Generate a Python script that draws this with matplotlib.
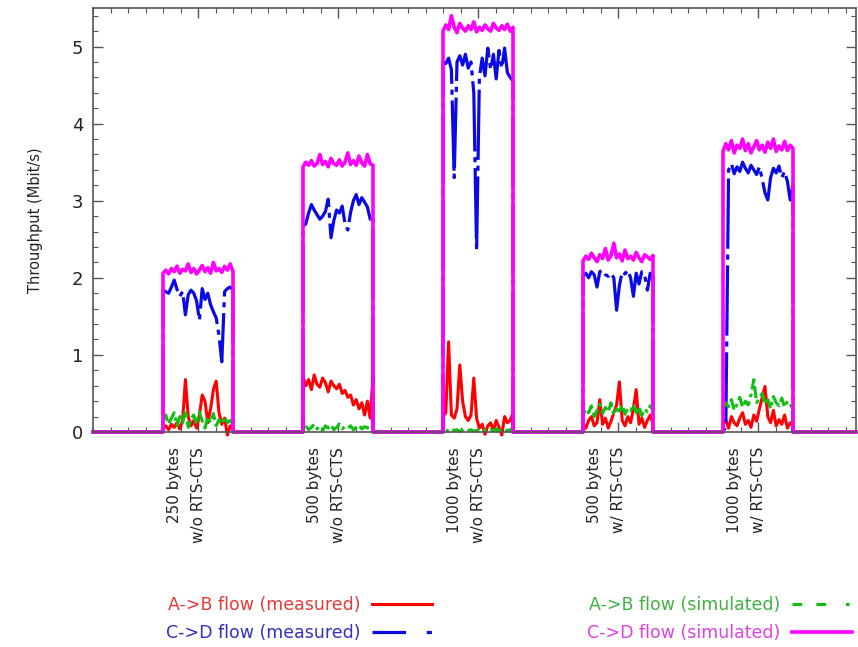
import matplotlib.pyplot as plt
import matplotlib.transforms as mtransforms
import numpy as np
from matplotlib.lines import Line2D
from matplotlib.ticker import MultipleLocator

# time windows (s) of the five runs, and the axis range
seg_start = [50, 150, 250, 350, 450]
seg_len = 50
x_max = 545
tick_pos = [75, 175, 275, 375, 475]
tick_labels = ['250 bytes\nw/o RTS-CTS', '500 bytes\nw/o RTS-CTS', '1000 bytes\nw/o RTS-CTS',
               '500 bytes\nw/ RTS-CTS', '1000 bytes\nw/ RTS-CTS']

# A->B flow (measured), one list per run
ab_meas = [
    [0.05, 0.08, 0.03, 0.10, 0.06, 0.12, 0.04, 0.15, 0.68, 0.20, 0.08, 0.15, 0.05, 0.22, 0.48, 0.40, 0.12, 0.30, 0.55, 0.66, 0.25, 0.10, 0.18, -0.04, 0.08, 0.04],
    [0.72, 0.60, 0.68, 0.55, 0.74, 0.62, 0.58, 0.70, 0.64, 0.52, 0.66, 0.60, 0.56, 0.62, 0.50, 0.54, 0.45, 0.48, 0.35, 0.42, 0.30, 0.38, 0.22, 0.40, 0.18, 0.72],
    [0.20, 0.25, 1.17, 0.22, 0.18, 0.30, 0.87, 0.40, 0.20, 0.15, 0.22, 0.70, 0.18, 0.05, 0.10, -0.03, 0.08, 0.12, 0.02, 0.15, 0.06, -0.04, 0.20, 0.12, 0.15, 0.25],
    [0.10, 0.05, 0.15, 0.20, 0.08, 0.12, 0.42, 0.10, 0.18, 0.05, 0.14, 0.25, 0.35, 0.65, 0.15, 0.08, 0.20, 0.12, 0.30, 0.55, 0.10, 0.18, 0.06, 0.15, 0.22, 0.10],
    [0.10, 0.15, 0.05, 0.20, 0.12, 0.08, 0.18, 0.25, 0.10, 0.15, 0.06, 0.22, 0.14, 0.30, 0.45, 0.59, 0.20, 0.12, 0.28, 0.08, 0.16, 0.10, 0.22, 0.05, 0.12, 0.08],
]
# C->D flow (measured)
cd_meas = [
    [1.84, 1.82, 1.80, 1.88, 1.97, 1.85, 1.76, 1.82, 1.52, 1.78, 1.84, 1.80, 1.70, 1.45, 1.86, 1.72, 1.80, 1.65, 1.56, 1.48, 1.25, 0.91, 1.82, 1.86, 1.88, 1.84],
    [2.67, 2.70, 2.84, 2.95, 2.88, 2.82, 2.76, 2.80, 2.86, 3.02, 2.52, 2.74, 2.88, 2.84, 2.93, 2.70, 2.62, 2.85, 3.00, 3.08, 2.95, 3.04, 2.98, 2.92, 2.76, 2.80],
    [4.80, 4.78, 4.85, 4.70, 3.30, 4.80, 4.88, 4.76, 4.90, 4.72, 4.80, 4.40, 2.35, 4.60, 4.85, 4.62, 4.98, 4.70, 4.90, 4.58, 4.95, 4.72, 4.98, 4.66, 4.60, 4.55],
    [2.02, 2.06, 2.00, 2.08, 2.04, 1.88, 2.08, 2.10, 2.04, 2.02, 2.06, 2.00, 1.58, 1.90, 2.08, 2.05, 2.10, 2.00, 1.76, 2.06, 1.92, 2.08, 2.04, 1.84, 2.06, 2.02],
    [0.02, 0.05, 3.40, 3.48, 3.35, 3.44, 3.38, 3.50, 3.42, 3.36, 3.46, 3.40, 3.34, 3.44, 3.28, 3.10, 3.01, 3.30, 3.42, 3.36, 3.45, 3.30, 3.38, 3.25, 3.01, 3.20],
]
# A->B flow (simulated)
ab_sim = [
    [0.15, 0.22, 0.10, 0.18, 0.25, 0.08, 0.20, 0.12, 0.28, 0.06, 0.18, 0.22, 0.10, 0.26, 0.14, 0.05, 0.20, 0.12, 0.24, 0.08, 0.16, 0.10, 0.20, 0.12, 0.15, 0.10],
    [0.05, 0.08, 0.03, 0.06, 0.10, 0.04, 0.07, 0.02, 0.08, 0.05, 0.09, 0.03, 0.06, 0.10, 0.04, 0.07, 0.05, 0.08, 0.03, 0.06, 0.09, 0.04, 0.07, 0.05, 0.10, 0.06],
    [0.02, 0.03, 0.01, 0.04, 0.02, 0.03, 0.01, 0.02, 0.04, 0.02, 0.03, 0.01, 0.02, 0.03, 0.04, 0.02, 0.01, 0.03, 0.02, 0.04, 0.02, 0.03, 0.01, 0.02, 0.03, 0.02],
    [0.22, 0.30, 0.25, 0.34, 0.20, 0.28, 0.36, 0.24, 0.32, 0.26, 0.38, 0.22, 0.30, 0.27, 0.35, 0.23, 0.31, 0.28, 0.36, 0.25, 0.33, 0.21, 0.30, 0.26, 0.34, 0.28],
    [0.30, 0.38, 0.33, 0.42, 0.28, 0.36, 0.45, 0.32, 0.40, 0.35, 0.48, 0.68, 0.38, 0.44, 0.50, 0.36, 0.42, 0.30, 0.46, 0.38, 0.34, 0.44, 0.32, 0.40, 0.36, 0.30],
]
# C->D flow (simulated)
cd_sim = [
    [2.06, 2.10, 2.05, 2.12, 2.08, 2.15, 2.06, 2.11, 2.09, 2.18, 2.07, 2.12, 2.05, 2.10, 2.16, 2.08, 2.13, 2.06, 2.20, 2.09, 2.12, 2.07, 2.15, 2.10, 2.18, 2.08],
    [3.44, 3.50, 3.46, 3.52, 3.45, 3.48, 3.60, 3.47, 3.51, 3.44, 3.55, 3.48, 3.46, 3.53, 3.45, 3.50, 3.62, 3.47, 3.52, 3.46, 3.58, 3.49, 3.45, 3.60, 3.48, 3.46],
    [5.20, 5.28, 5.22, 5.40, 5.25, 5.18, 5.30, 5.24, 5.20, 5.27, 5.22, 5.32, 5.19, 5.25, 5.21, 5.28, 5.23, 5.20, 5.30, 5.24, 5.21, 5.27, 5.22, 5.29, 5.20, 5.25],
    [2.22, 2.28, 2.24, 2.32, 2.26, 2.21, 2.30, 2.25, 2.38, 2.23, 2.29, 2.45, 2.26, 2.31, 2.22, 2.36, 2.25, 2.28, 2.23, 2.33, 2.26, 2.21, 2.30, 2.27, 2.24, 2.29],
    [3.64, 3.74, 3.66, 3.78, 3.62, 3.72, 3.68, 3.80, 3.65, 3.74, 3.62, 3.70, 3.78, 3.66, 3.72, 3.63, 3.76, 3.68, 3.80, 3.64, 3.71, 3.66, 3.77, 3.65, 3.72, 3.68],
]


# join the runs into one trace, zero between runs
def build(runs):
    xs, ys = [0.0], [0.0]
    for s, vals in zip(seg_start, runs):
        t = np.linspace(s, s + seg_len, len(vals))
        xs += [s] + list(t) + [s + seg_len]
        ys += [0.0] + list(vals) + [0.0]
    xs.append(x_max)
    ys.append(0.0)
    return xs, ys


plt.rcParams['font.family'] = 'DejaVu Sans'
fig = plt.figure(figsize=(8.58, 6.47), dpi=100)
ax = fig.add_axes([93 / 858, 1 - 432 / 647, (856 - 93) / 858, (432 - 8) / 647])

# data, line colour, text colour, dashes on the data, dashes in the key, width
series = [
    (ab_meas, '#ff0000', '#e83838', '-', '-', 2.2, 'A->B flow (measured)'),
    (cd_meas, '#0a0ae6', '#3030c0', (0, (22, 1.8, 1.6, 1.8)), (0, (10.5, 6.5, 1.6, 6)), 2.3, 'C->D flow (measured)'),
    (ab_sim, '#10c010', '#40b040', (0, (4, 1.4, 4, 1.4, 1.2, 1.4)), (0, (3.2, 4.6, 3.2, 6.5, 1.2, 5)), 2.2, 'A->B flow (simulated)'),
    (cd_sim, '#ff00ff', '#e040e0', '-', '-', 2.6, 'C->D flow (simulated)'),
]
handles, labels, text_cols = [], [], []
for runs, col, tcol, ls, key_ls, lw, lab in series:
    xs, ys = build(runs)
    ax.plot(xs, ys, color=col, linestyle=ls, linewidth=lw, clip_on=False)
    handles.append(Line2D([], [], color=col, linestyle=key_ls, linewidth=lw))
    labels.append(lab)
    text_cols.append(tcol)

ax.set_xlim(0, x_max)
ax.set_ylim(0, 5.5)
ax.set_yticks(np.arange(0, 6, 1))
ax.yaxis.set_minor_locator(MultipleLocator(0.2))
ax.set_xticks(tick_pos)
ax.set_xticklabels([])
ax.xaxis.set_minor_locator(MultipleLocator(12.5))
ax.tick_params(which='both', direction='in', top=True, right=True, colors='#555555',
               labelcolor='#222222', labelsize=13, pad=7)
ax.tick_params(which='major', length=7, width=1)
ax.tick_params(which='minor', length=3.5, width=0.8)
for sp in ax.spines.values():
    sp.set_color('#555555')
    sp.set_linewidth(1.2)

ax.set_ylabel('Throughput (Mbit/s)', fontsize=10.5, labelpad=21, color='#222222')

# rotated two-line labels under each run, shifted left of the tick like gnuplot does
lab_trans = mtransforms.offset_copy(ax.get_xaxis_transform(), fig=fig, x=-12, y=-15, units='dots')
for xp, lab in zip(tick_pos, tick_labels):
    ax.text(xp, 0, lab, transform=lab_trans, rotation=90, ha='center', va='top',
            multialignment='right', fontsize=11, linespacing=1.75, color='#222222')

leg = fig.legend(handles=handles, labels=labels, loc='center', bbox_to_anchor=(509 / 858, 1 - 619 / 647),
                 ncol=2, markerfirst=False, frameon=False, fontsize=12.5,
                 handlelength=3.45, handletextpad=0.7, columnspacing=8.9, labelspacing=0.55)
for txt, tcol in zip(leg.get_texts(), text_cols):
    txt.set_color(tcol)

fig.savefig('out.png', dpi=100)
